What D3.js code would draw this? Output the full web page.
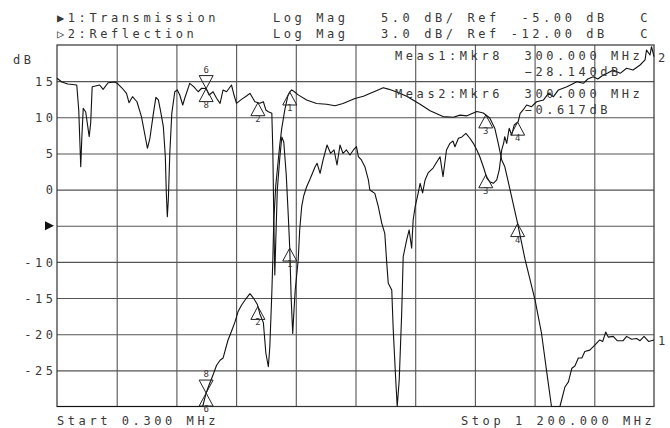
<!DOCTYPE html>
<html>
<head>
<meta charset="utf-8">
<script src="https://cdn.jsdelivr.net/npm/d3@7"></script>
<style>
body{margin:0;background:#fff;}
svg text{font-family:"DejaVu Sans Mono",monospace;fill:#383838;white-space:pre;}
</style>
</head>
<body>
<svg id="chart" width="670" height="428"></svg>
<script>
/**
 * network analyzer screen : transmission + reflection traces
 */

// trace 1 : transmission (dB), 5 dB/div, ref -5 dB
var transMHz = [0.3,40,90,140,190,240,280,293,300,306,314,321,328,334,344,351,358,364,371,381,388,395,403,408,415,420,425,428,432,434,436,440,445,448,452,458,464,468,472,478,485,502,522,542,559,575,599,616,636,656,666,683,703,730,750,776,797,810,824,844,857,870,880,887,894,900,911,926,941,961,974,984,994,1001,1011,1021,1028,1035,1041,1048,1055,1061,1071,1081,1091,1097,1103,1108,1118,1126,1138,1145,1155,1165,1172,1180,1189,1200];
var transDb = [-33,-34,-33.5,-33,-32.5,-32,-31,-30.0,-28.14,-27.0,-25.6,-24.3,-23.6,-23.3,-20.8,-19.6,-18.3,-16.9,-16.0,-15.0,-14.4,-15.0,-15.9,-17.2,-18.4,-22.6,-24.5,-21.7,-14.3,-9.7,-4.2,0.6,4.1,6.2,8.5,11.0,12.9,13.5,13.8,13.5,13.1,12.4,11.9,11.8,11.6,11.9,12.6,12.9,13.5,14.1,13.9,13.5,12.9,11.8,10.9,10.1,10.0,10.3,10.2,10.8,10.6,9.9,8.5,6.4,4.1,3.2,-0.1,-4.7,-9.7,-15.3,-19.9,-25.0,-30.0,-31.0,-30.2,-27.3,-26.6,-24.7,-24.4,-23.3,-23.3,-22.4,-22.2,-21.5,-20.8,-21.0,-19.7,-20.4,-20.3,-20.9,-20.9,-20.3,-20.7,-20.6,-20.9,-20.3,-21.0,-20.8];

// trace 2 : reflection (dB), 3 dB/div, ref -12 dB
var reflMHz = [0.3,10,22,40,44,48,50,53,58,65,68,71,86,93,103,117,123,131,140,145,152,161,170,177,182,187,194,199,204,208,214,218,220,222,224,227,231,237,242,247,253,257,267,275,284,291,300,306,314,321,328,334,341,351,356,361,371,381,388,398,408,415,420,425,432,434,436,438,440,443,448,452,456,461,465,468,471,474,476,479,485,488,492,496,502,508,519,523,529,535,543,550,557,563,569,575,582,589,596,602,606,612,619,626,629,639,646,653,659,663,666,673,676,681,684,688,693,696,703,708,713,716,720,726,730,735,740,746,756,770,776,783,790,796,800,807,814,822,830,837,844,850,858,864,870,877,884,889,894,898,900,904,909,914,919,927,931,937,944,954,964,978,988,998,1008,1025,1045,1058,1067,1078,1087,1098,1107,1118,1132,1145,1158,1172,1182,1185,1192,1195,1200];
var reflDb = [0.24,-0.07,-0.24,-0.32,-2.39,-7.1,-4.88,-2.25,-2.56,-4.61,-3.47,-0.46,-0.32,-0.68,-0.13,-0.07,-0.24,-0.57,-1.01,-1.79,-1.29,-1.71,-2.95,-4.47,-5.57,-4.74,-2.67,-1.34,-1.56,-2.39,-3.78,-6.27,-9.31,-11.25,-9.86,-5.99,-2.67,-0.88,-0.73,-1.15,-1.98,-1.42,-0.18,-0.46,-0.88,-0.59,-0.617,-1.15,-0.88,-1.42,-1.84,-0.73,-0.88,-0.32,-1.15,-1.84,-1.51,-1.23,-1.01,-1.71,-1.84,-1.71,-2.39,-2.54,-2.67,-5.71,-11.52,-16.09,-13.18,-9.03,-6.38,-4.63,-5.05,-7.79,-11.11,-13.85,-18.16,-20.93,-19.41,-17.33,-14.84,-12.35,-10.42,-9.53,-8.76,-8.20,-7.10,-6.82,-7.65,-6.54,-5.30,-5.99,-5.71,-6.96,-5.30,-5.99,-5.71,-6.13,-5.71,-5.44,-6.27,-6.54,-7.10,-8.20,-9.03,-9.31,-10.42,-11.80,-12.63,-15.12,-16.78,-17.33,-20.65,-24.80,-28.5,-24.80,-19.24,-14.57,-13.18,-12.35,-13.87,-11.52,-10.42,-9.31,-8.48,-9.28,-8.20,-7.62,-7.21,-6.27,-7.93,-5.71,-5.16,-4.97,-5.44,-4.74,-4.63,-4.33,-4.74,-5.16,-5.71,-6.27,-7.23,-8.04,-8.34,-8.48,-8.20,-7.37,-5.71,-5.13,-4.61,-5.16,-3.91,-4.47,-3.64,-3.37,-2.67,-2.39,-1.98,-2.12,-1.71,-1.56,-1.01,-1.29,-0.73,-0.46,-0.05,-0.18,0.18,0.37,0.18,0.51,0.68,0.93,0.65,1.07,0.93,1.34,1.76,2.59,2.17,2.86,2.03];

// markers (same frequencies on both traces)
var markerIds = [8,6,1,2,3,4];
var markerMHz = [300,300,468,404,862,926];

// axis labels / header texts
var yTickDb = [15,10,5,0,-5,-10,-15,-20,-25];
var yTickLabels = ['15','10','5','0','','-10','-15','-20','-25'];
var headerLines = [
	'\u25B61:Transmission     Log Mag   5.0 dB/ Ref  -5.00 dB   C',
	'\u25B72:Reflection       Log Mag   3.0 dB/ Ref -12.00 dB   C'
];
var measNames = ['Meas1:Mkr8','Meas2:Mkr6'];
var measMHz = [300,300];
var measDb = [-28.140,-0.617];
var startLabel = 'Start 0.300 MHz';
var stopLabel = 'Stop 1 200.000 MHz';

/** layout */
var plotLeft = 57, plotRight = 654, plotTop = 45, plotBottom = 406.5;
var fontSize = 12, pitch = 10.8;
var spacing = pitch - 0.602*fontSize;

var svg = d3.select('#chart');
svg.append('rect').attr('width',670).attr('height',428).attr('fill','#fff');

var xScale = d3.scaleLinear().domain([0.3,1200]).range([plotLeft,plotRight]);
var yTrans = d3.scaleLinear().domain([-30,20]).range([plotBottom,plotTop]).clamp(true);
var yRefl = d3.scaleLinear().domain([-27,3]).range([plotBottom,plotTop]).clamp(true);

// grid : 10 divisions each way
var xDiv = d3.range(1,10).map(function(i){return 0.3 + i*(1200-0.3)/10;});
svg.append('g')
	.attr('class','grid-x')
	.attr('transform','translate(0,' + plotBottom + ')')
	.call(d3.axisBottom(xScale).tickValues(xDiv).tickSize(-(plotBottom-plotTop)).tickFormat(''))
	.call(function(g){
		g.select('.domain').remove();
		g.selectAll('line').attr('stroke','#555').attr('stroke-width',1.1);
	});

svg.append('g')
	.attr('class','grid-y')
	.attr('transform','translate(' + plotLeft + ',0)')
	.call(d3.axisLeft(yTrans).tickValues(yTickDb).tickSize(-(plotRight-plotLeft)).tickPadding(4)
		.tickFormat(function(d,i){return yTickLabels[i];}))
	.call(function(g){
		g.select('.domain').remove();
		g.selectAll('line').attr('stroke','#555').attr('stroke-width',1.1);
		g.selectAll('text')
			.attr('x',-4 + spacing)
			.attr('dy','0.36em')
			.attr('fill','#383838')
			.style('font-size',fontSize + 'px')
			.style('letter-spacing',spacing + 'px')
			.style('font-family','"DejaVu Sans Mono",monospace');
	});

// reference arrow at -5 dB
var refY = yTrans(-5);
svg.append('path')
	.attr('d','M45,' + (refY-4.5) + 'L54,' + refY + 'L45,' + (refY+4.5) + 'Z')
	.attr('fill','#111');

svg.append('rect')
	.attr('x',plotLeft).attr('y',plotTop)
	.attr('width',plotRight-plotLeft).attr('height',plotBottom-plotTop)
	.attr('fill','none').attr('stroke','#333').attr('stroke-width',1.2);

svg.append('text').attr('x',13).attr('y',64)
	.style('font-size',fontSize + 'px').style('letter-spacing',spacing + 'px').text('dB');

/** traces */
function makeTrace(freqs, vals){
	return freqs.map(function(f,i){return {f:f, v:vals[i]};});
}
var traces = [
	{data:makeTrace(transMHz,transDb), y:yTrans, active:8, label:'1'},
	{data:makeTrace(reflMHz,reflDb), y:yRefl, active:6, label:'2'}
];

traces.forEach(function(tr){
	var line = d3.line().x(function(d){return xScale(d.f);}).y(function(d){return tr.y(d.v);});
	svg.append('path')
		.datum(tr.data)
		.attr('d',line)
		.attr('fill','none')
		.attr('stroke','#111')
		.attr('stroke-width',1.1)
		.attr('stroke-linejoin','round');
	var last = tr.data[tr.data.length-1];
	svg.append('text')
		.attr('x',xScale(last.f) + 4)
		.attr('y',tr.y(last.v) + 5)
		.style('font-size','12px')
		.text(tr.label);
});

/** value of a trace at a given frequency (linear between points) */
function valueAt(data, f){
	var i = d3.bisector(function(d){return d.f;}).left(data,f);
	if(i <= 0) return data[0].v;
	if(i >= data.length) return data[data.length-1].v;
	var a = data[i-1], b = data[i];
	return a.v + (b.v-a.v)*(f-a.f)/(b.f-a.f);
}

traces.forEach(function(tr){
	markerIds.forEach(function(id,k){
		var px = xScale(markerMHz[k]);
		var py = tr.y(valueAt(tr.data,markerMHz[k]));
		var down = (id === tr.active);
		var h = down ? -13 : 13;
		svg.append('path')
			.attr('d','M' + px + ',' + py + 'L' + (px-7) + ',' + (py+h) + 'L' + (px+7) + ',' + (py+h) + 'Z')
			.attr('fill','none')
			.attr('stroke','#222')
			.attr('stroke-width',1);
		svg.append('text')
			.attr('x',px)
			.attr('y',down ? py-16 : py+19)
			.attr('text-anchor','middle')
			.style('font-size','9px')
			.text(id);
	});
});

/** texts */
function monoText(x, y, str){
	return svg.append('text')
		.attr('x',x).attr('y',y)
		.attr('xml:space','preserve')
		.style('font-size',fontSize + 'px')
		.style('letter-spacing',spacing + 'px')
		.text(str);
}
monoText(plotLeft,22,headerLines[0]);
monoText(plotLeft,37.5,headerLines[1]);

var measY = [59.5,97.5];
measNames.forEach(function(name,i){
	monoText(395,measY[i],name + '  ' + d3.format('.3f')(measMHz[i]) + ' MHz');
	monoText(395 + 12*pitch,measY[i] + 16.5,d3.format('.3f')(measDb[i]) + 'dB');
});

monoText(plotLeft,424.5,startLabel);
monoText(461,424.5,stopLabel);
</script>
</body>
</html>
